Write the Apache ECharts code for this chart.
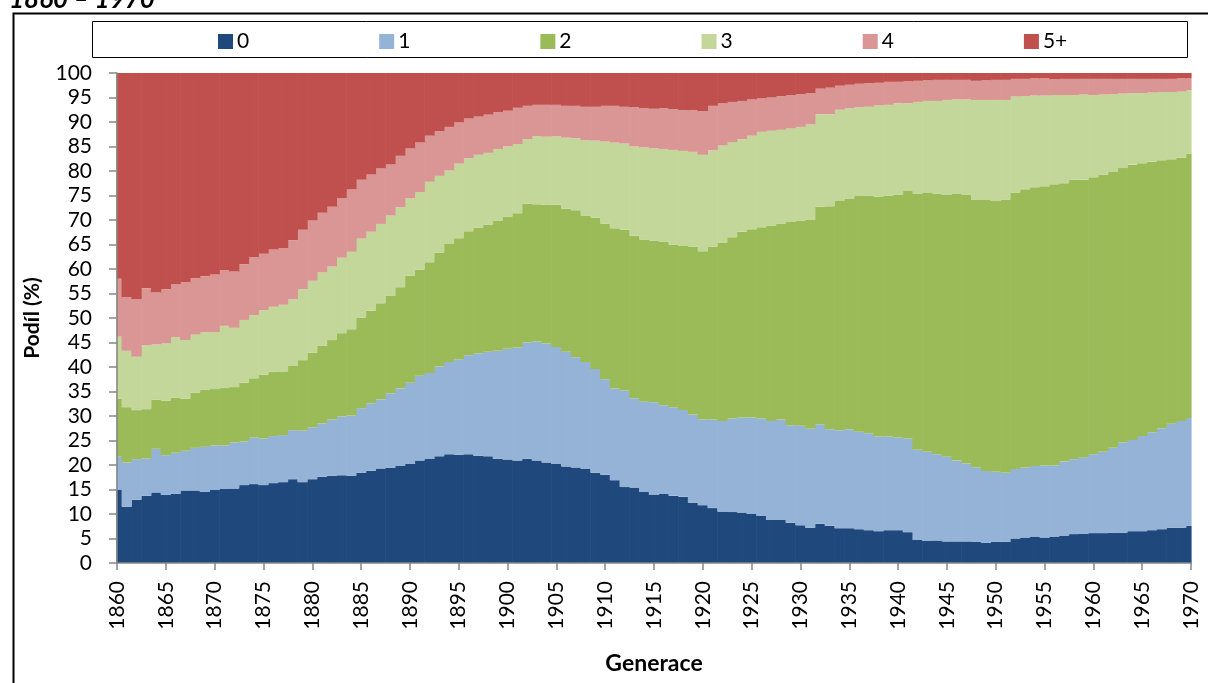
<!DOCTYPE html>
<html>
<head>
<meta charset="utf-8">
<script src="https://cdn.jsdelivr.net/npm/echarts@6/dist/echarts.min.js"></script>
<style>
  html, body { margin: 0; padding: 0; background: #ffffff; }
  #chart { width: 1208px; height: 683px; }
</style>
</head>
<body>
<div id="chart"></div>
<script>
// Podíl žen podle počtu dětí, generace 1860–1970 (100% skládané sloupce)

const YEARS = Array.from({ length: 111 }, (_, i) => String(1860 + i));

const SERIES_NAMES = ["0", "1", "2", "3", "4", "5+"];

// podíl v % pro každou generaci (1860 … 1970)
const kids0 = [
  15.0, 11.5, 12.9, 13.7, 14.4, 13.9, 14.1, 14.8, 14.8, 14.5,
  14.9, 15.1, 15.2, 15.9, 16.1, 15.9, 16.3, 16.5, 17.1, 16.5,
  17.1, 17.6, 17.8, 17.9, 17.8, 18.4, 18.8, 19.3, 19.4, 19.8,
  20.2, 20.9, 21.2, 21.8, 22.2, 22.1, 22.2, 21.9, 21.8, 21.3,
  21.1, 20.9, 21.3, 20.9, 20.5, 20.2, 19.7, 19.5, 19.2, 18.4,
  18.0, 16.9, 15.5, 15.4, 14.5, 13.9, 14.1, 13.7, 13.5, 12.3,
  11.8, 11.2, 10.5, 10.4, 10.3, 10.0, 9.6, 8.8, 8.8, 8.2,
  7.7, 7.2, 8.0, 7.6, 7.1, 7.1, 6.9, 6.7, 6.5, 6.7,
  6.7, 6.3, 4.7, 4.5, 4.6, 4.4, 4.4, 4.4, 4.3, 4.1,
  4.3, 4.3, 5.0, 5.2, 5.4, 5.2, 5.4, 5.6, 5.9, 6.0,
  6.1, 6.1, 6.2, 6.2, 6.5, 6.5, 6.7, 6.9, 7.2, 7.2,
  7.6
];
const kids1 = [
  6.8, 9.0, 8.3, 7.6, 8.9, 8.1, 8.4, 8.1, 8.7, 9.2,
  9.1, 8.9, 9.4, 8.9, 9.5, 9.5, 9.6, 9.6, 10.0, 10.5,
  10.6, 10.9, 11.5, 12.0, 12.3, 13.2, 13.8, 14.1, 15.2, 15.8,
  16.6, 17.3, 17.6, 18.3, 18.8, 19.5, 20.2, 20.9, 21.3, 22.0,
  22.6, 23.1, 23.7, 24.3, 24.3, 23.9, 23.4, 22.5, 21.8, 21.2,
  19.5, 18.7, 19.7, 18.2, 18.4, 18.9, 18.1, 18.1, 17.7, 18.0,
  17.5, 18.1, 18.5, 19.1, 19.4, 19.7, 19.9, 20.2, 20.5, 19.9,
  20.3, 20.2, 20.3, 19.7, 20.0, 20.2, 19.9, 19.8, 19.3, 19.1,
  18.9, 19.1, 18.4, 18.2, 17.6, 17.3, 16.5, 15.9, 15.2, 14.7,
  14.3, 14.1, 14.2, 14.3, 14.4, 14.7, 14.5, 15.1, 15.3, 15.6,
  16.1, 16.6, 17.3, 18.4, 18.6, 19.4, 20.0, 20.6, 21.2, 21.8,
  22.0
];
const kids2 = [
  11.7, 11.3, 10.0, 10.1, 10.0, 11.1, 11.2, 10.6, 11.3, 11.6,
  11.5, 11.7, 11.3, 12.0, 12.1, 13.0, 13.1, 13.0, 13.1, 14.4,
  15.2, 15.8, 16.2, 17.0, 17.6, 18.5, 18.9, 19.6, 19.9, 20.7,
  21.8, 21.7, 22.6, 23.2, 24.1, 24.7, 25.3, 25.6, 26.0, 26.6,
  27.0, 27.4, 28.3, 28.0, 28.3, 29.0, 29.2, 30.0, 29.9, 30.9,
  31.8, 32.7, 32.8, 33.2, 33.1, 33.0, 33.4, 33.2, 33.5, 34.3,
  34.3, 35.3, 36.4, 37.0, 37.9, 38.4, 39.0, 39.9, 40.0, 41.5,
  41.9, 42.6, 44.4, 45.5, 46.8, 47.1, 48.1, 48.5, 49.0, 49.2,
  49.6, 50.5, 52.3, 52.8, 53.2, 53.4, 54.4, 54.8, 54.6, 55.3,
  55.3, 55.8, 56.4, 56.8, 56.9, 57.0, 57.4, 56.8, 57.0, 56.6,
  56.5, 56.5, 56.3, 56.0, 56.2, 55.7, 55.2, 54.7, 54.0, 53.7,
  53.9
];
const kids3 = [
  12.7, 11.5, 10.9, 13.0, 11.3, 11.7, 12.4, 12.0, 11.8, 11.8,
  11.6, 12.7, 12.1, 12.8, 12.9, 13.2, 13.3, 13.6, 13.6, 14.5,
  14.7, 15.0, 15.0, 15.4, 15.8, 16.1, 16.1, 16.2, 16.4, 16.3,
  15.8, 15.8, 16.4, 15.7, 15.0, 15.2, 14.9, 14.9, 14.6, 14.6,
  14.3, 14.1, 13.2, 13.9, 13.9, 14.0, 14.5, 14.7, 15.4, 15.7,
  16.7, 17.5, 17.6, 18.2, 18.8, 18.8, 18.9, 19.3, 19.4, 19.3,
  19.7, 19.6, 19.8, 19.4, 18.9, 19.1, 19.5, 19.3, 19.1, 19.1,
  19.1, 19.5, 18.9, 18.8, 18.6, 18.4, 18.1, 18.1, 18.6, 18.5,
  18.6, 17.9, 18.7, 18.8, 18.9, 19.4, 19.3, 19.5, 20.4, 20.4,
  20.6, 20.3, 19.6, 19.0, 18.7, 18.5, 18.2, 18.0, 17.3, 17.4,
  16.8, 16.4, 15.9, 15.2, 14.6, 14.3, 14.1, 13.9, 13.7, 13.5,
  13.0
];
const kids4 = [
  11.8, 11.0, 11.8, 11.7, 10.6, 11.1, 10.8, 11.8, 11.5, 11.4,
  11.8, 11.4, 11.5, 11.4, 11.8, 11.5, 11.7, 11.6, 12.1, 12.1,
  12.3, 12.2, 12.2, 12.2, 12.8, 12.0, 11.7, 11.3, 10.5, 10.5,
  10.2, 10.1, 9.4, 9.1, 8.9, 8.4, 8.1, 7.8, 7.8, 7.5,
  7.3, 7.4, 6.8, 6.4, 6.5, 6.4, 6.5, 6.6, 6.8, 6.9,
  7.3, 7.5, 7.5, 8.0, 8.0, 8.1, 8.3, 8.3, 8.3, 8.5,
  8.9, 9.1, 8.6, 8.2, 7.8, 7.4, 6.8, 6.8, 6.9, 6.8,
  6.7, 6.4, 5.2, 5.4, 4.9, 4.8, 4.8, 4.8, 4.6, 4.7,
  4.4, 4.5, 4.3, 4.2, 4.3, 4.1, 4.0, 4.0, 3.9, 4.0,
  4.1, 4.1, 3.6, 3.5, 3.5, 3.5, 3.2, 3.3, 3.3, 3.2,
  3.3, 3.2, 3.1, 3.0, 2.9, 2.9, 2.8, 2.7, 2.7, 2.7,
  2.4
];
const kids5plus = [
  42.0, 45.7, 46.1, 43.9, 44.8, 44.1, 43.1, 42.7, 41.9, 41.5,
  41.1, 40.2, 40.5, 39.0, 37.6, 36.9, 36.0, 35.7, 34.1, 32.0,
  30.1, 28.5, 27.3, 25.5, 23.7, 21.8, 20.7, 19.5, 18.6, 16.9,
  15.4, 14.2, 12.8, 11.9, 11.0, 10.1, 9.3, 8.9, 8.5, 8.0,
  7.7, 7.1, 6.7, 6.5, 6.5, 6.5, 6.7, 6.7, 6.9, 6.9,
  6.7, 6.7, 6.9, 7.0, 7.2, 7.3, 7.2, 7.4, 7.6, 7.6,
  7.8, 6.7, 6.2, 5.9, 5.7, 5.4, 5.2, 5.0, 4.7, 4.5,
  4.3, 4.1, 3.2, 3.0, 2.6, 2.4, 2.2, 2.1, 2.0, 1.8,
  1.8, 1.7, 1.6, 1.5, 1.4, 1.4, 1.4, 1.4, 1.6, 1.5,
  1.4, 1.4, 1.2, 1.2, 1.1, 1.1, 1.3, 1.2, 1.2, 1.2,
  1.2, 1.2, 1.2, 1.2, 1.2, 1.2, 1.2, 1.2, 1.2, 1.1,
  1.1
];

// Excel 2007 paleta
const COLORS = ["#1f497d", "#95b3d7", "#9bbb59", "#c4d79b", "#da9694", "#c0504d"];
const AXIS_GRAY = "#868686";
const FONT = '"Lato", "Open Sans", sans-serif';

// rozměry plochy grafu (px)
const PLOT = { left: 117, right: 1191, top: 73, bottom: 563 };

// ─── graf ────────────────────────────────────────────────────

const chart = echarts.init(document.getElementById("chart"), null, { renderer: "canvas" });

const seriesData = [kids0, kids1, kids2, kids3, kids4, kids5plus];

// boundaryGap:false → krajní sloupce přesahují mřížku; ECharts je neořízne,
// proto je zakryjeme bílými obdélníky (osy mají vyšší z a zůstanou nahoře)
const masks = [
  { x: 95, w: PLOT.left - 95 - 0.6 },
  { x: PLOT.right + 0.6, w: 1208 - PLOT.right },
].map((m) => ({
  type: "rect", silent: true, z: 5,
  shape: { x: m.x, y: PLOT.top - 2, width: m.w, height: PLOT.bottom - PLOT.top + 4 },
  style: { fill: "#ffffff" },
}));

chart.setOption({
  animation: false,
  backgroundColor: "#ffffff",
  textStyle: { fontFamily: FONT, color: "#000000" },
  color: COLORS,
  grid: {
    left: PLOT.left, right: 1208 - PLOT.right,
    top: PLOT.top, bottom: 683 - PLOT.bottom,
    containLabel: false,
  },
  legend: {
    data: SERIES_NAMES,
    left: 218,
    top: 31,
    itemWidth: 15,
    itemHeight: 15,
    itemGap: 130,
    icon: "rect",
    selectedMode: false,
    padding: 0,
    textStyle: { fontFamily: FONT, fontSize: 21, color: "#000000", padding: [0, 0, 0, -1] },
  },
  graphic: [
    ...masks,
    // vnější rámeček grafu (pravá a spodní strana jsou ořezané)
    {
      type: "rect", left: 11, top: 11, silent: true, z: 6,
      shape: { width: 1400, height: 900 },
      style: { fill: "none", stroke: "#000000", lineWidth: 2 },
    },
    // rámeček legendy
    {
      type: "rect", left: 92, top: 21, silent: true, z: -1,
      shape: { width: 1095, height: 36 },
      style: { fill: "#ffffff", stroke: "#000000", lineWidth: 1 },
    },
    // oříznutý nadpis nahoře
    {
      type: "text", left: 9, top: -13, silent: true,
      style: { text: "1860 – 1970", fontFamily: FONT, fontSize: 26, fontWeight: "bold", fontStyle: "italic", fill: "#000000" },
    },
  ],
  xAxis: {
    type: "category",
    data: YEARS,
    boundaryGap: false,
    z: 10,
    name: "Generace",
    nameLocation: "middle",
    nameGap: 89,
    nameTextStyle: { fontFamily: FONT, fontSize: 23, fontWeight: "bold", color: "#000000" },
    axisLine: { show: true, lineStyle: { color: AXIS_GRAY, width: 1.5 } },
    axisTick: { show: true, interval: 4, length: 7, lineStyle: { color: AXIS_GRAY, width: 1.5 } },
    axisLabel: { interval: 4, rotate: 90, margin: 18, fontSize: 21, color: "#000000", fontFamily: FONT },
    splitLine: { show: false },
  },
  yAxis: {
    type: "value",
    min: 0,
    max: 100,
    interval: 5,
    z: 10,
    name: "Podíl (%)",
    nameLocation: "middle",
    nameGap: 74,
    nameRotate: 90,
    nameTextStyle: { fontFamily: FONT, fontSize: 21, fontWeight: "bold", color: "#000000" },
    axisLine: { show: true, lineStyle: { color: AXIS_GRAY, width: 1.5 } },
    axisTick: { show: true, length: 8, lineStyle: { color: AXIS_GRAY, width: 1.5 } },
    axisLabel: { margin: 25, fontSize: 21, color: "#000000", fontFamily: FONT },
    splitLine: { show: false },
  },
  series: SERIES_NAMES.map((name, i) => ({
    name,
    type: "bar",
    stack: "podil",
    data: seriesData[i],
    // o něco širší než pásmo, aby mezi sloupci nevznikaly světlé spáry
    barWidth: 10.4,
    itemStyle: { color: COLORS[i], borderWidth: 0 },
    emphasis: { disabled: true },
  })),
});
</script>
</body>
</html>
